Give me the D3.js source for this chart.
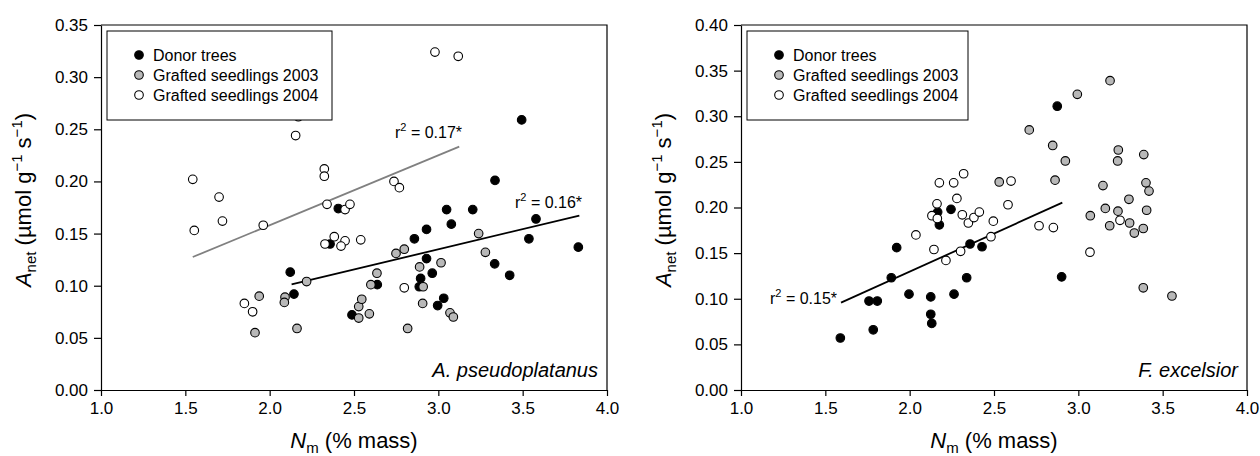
<!DOCTYPE html>
<html>
<head>
<meta charset="utf-8">
<script src="https://cdn.jsdelivr.net/npm/d3@7"></script>
<style>
  body { margin: 0; background: #fff; }
  svg { font-family: "Liberation Sans", Arial, sans-serif; }
  .axis path, .axis line { stroke: #000; stroke-width: 1.2; }
  .axis text { font-size: 17px; fill: #000; }
</style>
</head>
<body>
<script>
const WIDTH = 1260;
const HEIGHT = 456;

const seriesNames = ['Donor trees', 'Grafted seedlings 2003', 'Grafted seedlings 2004'];
const xTicks = [1.0, 1.5, 2.0, 2.5, 3.0, 3.5, 4.0];

// A. pseudoplatanus
const apDonor = [[2.407,0.174],[2.358,0.140],[2.122,0.113],[2.144,0.092],[2.488,0.072],[2.638,0.101],
  [2.858,0.145],[2.93,0.154],[2.93,0.126],[2.895,0.107],[2.887,0.099],[3.494,0.259],[3.336,0.201],
  [3.049,0.173],[3.204,0.173],[3.077,0.159],[3.579,0.164],[3.537,0.145],[3.83,0.137],[3.334,0.121],
  [3.423,0.110],[2.964,0.112],[3.032,0.088],[2.996,0.081]];
const ap2003 = [[2.219,0.104],[1.938,0.090],[1.913,0.055],[2.091,0.089],[2.087,0.084],[2.162,0.059],
  [2.528,0.069],[2.528,0.080],[2.546,0.087],[2.591,0.073],[2.60,0.101],[2.636,0.112],[2.749,0.131],
  [2.798,0.135],[2.889,0.118],[2.91,0.099],[2.907,0.083],[2.818,0.059],[3.239,0.150],[3.279,0.132],
  [3.016,0.122],[3.069,0.074],[3.089,0.070]];
const ap2004 = [[2.154,0.244],[2.17,0.262],[1.544,0.202],[1.70,0.185],[1.72,0.162],[2.324,0.212],
  [2.324,0.205],[2.34,0.178],[2.447,0.173],[2.476,0.178],[2.737,0.200],[2.769,0.194],[1.553,0.153],
  [1.962,0.158],[2.328,0.140],[2.383,0.147],[2.447,0.143],[2.423,0.138],[2.54,0.144],[1.85,0.083],
  [1.899,0.075],[2.798,0.098],[2.98,0.324],[3.118,0.320]];
const apFitAll = [[2.13,0.1013],[3.836,0.1672]];
const apFit2004 = [[1.544,0.1275],[3.124,0.2333]];
const apYTicks = [0.00,0.05,0.10,0.15,0.20,0.25,0.30,0.35];

// F. excelsior
const feDonor = [[2.166,0.195],[2.245,0.198],[2.875,0.311],[2.901,0.124],[2.176,0.181],[1.923,0.156],
  [2.358,0.160],[2.429,0.157],[1.891,0.123],[2.338,0.123],[1.996,0.105],[2.125,0.102],[2.263,0.105],
  [2.125,0.083],[2.131,0.073],[1.589,0.057],[1.759,0.0975],[1.808,0.0975],[1.784,0.066]];
const fe2003 = [[2.709,0.285],[2.531,0.228],[2.848,0.268],[2.923,0.251],[2.862,0.230],[2.994,0.324],
  [3.188,0.339],[3.237,0.263],[3.233,0.251],[3.388,0.258],[3.146,0.224],[3.401,0.227],[3.419,0.218],
  [3.30,0.209],[3.16,0.199],[3.235,0.196],[3.304,0.183],[3.332,0.172],[3.385,0.177],[3.405,0.197],
  [3.071,0.191],[3.186,0.180],[3.385,0.112],[3.555,0.103]];
const fe2004 = [[2.601,0.229],[2.176,0.227],[2.261,0.227],[2.32,0.237],[2.162,0.204],[2.28,0.210],
  [2.583,0.203],[2.132,0.191],[2.164,0.188],[2.312,0.192],[2.348,0.183],[2.381,0.189],[2.413,0.195],
  [2.496,0.185],[2.037,0.170],[2.144,0.154],[2.215,0.142],[2.302,0.152],[2.482,0.168],[2.767,0.180],
  [2.852,0.178],[3.247,0.186],[3.069,0.151]];
const feFitAll = [[1.593,0.0957],[2.905,0.2053]];
const feYTicks = [0.00,0.05,0.10,0.15,0.20,0.25,0.30,0.35,0.40];

const fills = ['#000', '#b8b8b8', '#fff'];

var svg = d3.select('body').append('svg')
    .attr('width', WIDTH)
    .attr('height', HEIGHT);

var drawPanel = function (p) {
    var xScale = d3.scaleLinear().domain([1, 4]).range([p.left, p.right]);
    var yScale = d3.scaleLinear().domain([0, p.yMax]).range([390, 25]);
    var g = svg.append('g');

    // frame (top + right)
    g.append('path')
        .attr('d', 'M' + p.left + ',25H' + p.right + 'V390')
        .attr('fill', 'none').attr('stroke', '#000').attr('stroke-width', 1.2);

    g.append('g').attr('class', 'axis')
        .attr('transform', 'translate(0,390)')
        .call(d3.axisBottom(xScale).tickValues(xTicks).tickFormat(d3.format('.1f'))
            .tickSize(6).tickSizeOuter(0).tickPadding(6));
    g.append('g').attr('class', 'axis')
        .attr('transform', 'translate(' + p.left + ',0)')
        .call(d3.axisLeft(yScale).tickValues(p.yTicks).tickFormat(d3.format('.2f'))
            .tickSize(7).tickSizeOuter(0).tickPadding(6));

    var line = d3.line()
        .x(function (d) { return xScale(d[0]); })
        .y(function (d) { return yScale(d[1]); });
    p.fits.forEach(function (f) {
        g.append('path').attr('d', line(f.pts))
            .attr('fill', 'none').attr('stroke', f.color).attr('stroke-width', 1.8);
    });

    p.series.forEach(function (s, i) {
        g.selectAll(null).data(s).enter().append('circle')
            .attr('cx', function (d) { return xScale(d[0]); })
            .attr('cy', function (d) { return yScale(d[1]); })
            .attr('r', 4.3)
            .attr('fill', fills[i])
            .attr('stroke', '#000').attr('stroke-width', 1.1);
    });

    // r² labels
    p.fits.forEach(function (f) {
        var t = g.append('text').attr('x', f.lx).attr('y', f.ly)
            .attr('font-size', 16).attr('text-anchor', f.anchor || 'start');
        t.append('tspan').text('r');
        t.append('tspan').attr('dy', -7).attr('font-size', 11).text('2');
        t.append('tspan').attr('dy', 7).text(' = ' + f.label);
    });

    // legend
    var lg = g.append('g').attr('transform', 'translate(' + (p.left + 6) + ',31)');
    lg.append('rect').attr('width', p.legendW).attr('height', 89)
        .attr('fill', '#fff').attr('stroke', '#000').attr('stroke-width', 1);
    seriesNames.forEach(function (name, i) {
        lg.append('circle').attr('cx', 32).attr('cy', 24 + i * 20).attr('r', 4.3)
            .attr('fill', fills[i]).attr('stroke', '#000').attr('stroke-width', 1.1);
        lg.append('text').attr('x', 46).attr('y', 30 + i * 20)
            .attr('font-size', 16).text(name);
    });

    // species
    g.append('text').attr('x', p.right - 9).attr('y', 377)
        .attr('text-anchor', 'end').attr('font-size', 20).attr('font-style', 'italic')
        .text(p.species);

    // x title
    var xt = g.append('text').attr('x', (p.left + p.right) / 2).attr('y', 448)
        .attr('text-anchor', 'middle').attr('font-size', 22);
    xt.append('tspan').attr('font-style', 'italic').text('N');
    xt.append('tspan').attr('dy', 5).attr('font-size', 15).text('m');
    xt.append('tspan').attr('dy', -5).text(' (% mass)');

    // y title
    var yt = g.append('text')
        .attr('transform', 'translate(' + (p.left - 70) + ',200) rotate(-90)')
        .attr('text-anchor', 'middle').attr('font-size', 22);
    yt.append('tspan').attr('font-style', 'italic').text('A');
    yt.append('tspan').attr('dy', 5).attr('font-size', 15).text('net');
    yt.append('tspan').attr('dy', -5).text(' (\u00b5mol g');
    yt.append('tspan').attr('dy', -9).attr('font-size', 15).text('\u22121');
    yt.append('tspan').attr('dy', 9).text(' s');
    yt.append('tspan').attr('dy', -9).attr('font-size', 15).text('\u22121');
    yt.append('tspan').attr('dy', 9).text(')');
};

drawPanel({
    left: 101, right: 607, yMax: 0.35, yTicks: apYTicks,
    series: [apDonor, ap2003, ap2004],
    fits: [
        {pts: apFit2004, color: '#808080', label: '0.17*', lx: 395, ly: 138},
        {pts: apFitAll, color: '#000', label: '0.16*', lx: 515, ly: 208}
    ],
    legendW: 225, species: 'A. pseudoplatanus'
});

drawPanel({
    left: 741, right: 1247, yMax: 0.40, yTicks: feYTicks,
    series: [feDonor, fe2003, fe2004],
    fits: [
        {pts: feFitAll, color: '#000', label: '0.15*', lx: 770, ly: 304}
    ],
    legendW: 221, species: 'F. excelsior'
});
</script>
</body>
</html>
